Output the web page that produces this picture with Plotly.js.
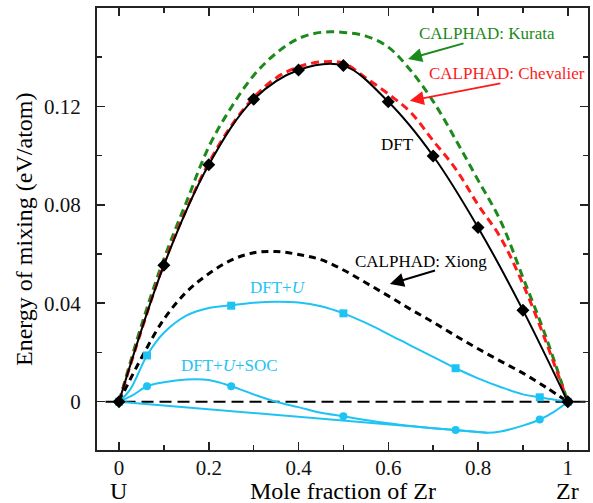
<!DOCTYPE html>
<html>
<head>
<meta charset="utf-8">
<script src="https://cdn.plot.ly/plotly-3.0.1.min.js"></script>
<style>html,body{margin:0;padding:0;background:#fff;}#chart{width:593px;height:503px;}</style>
</head>
<body>
<div id="chart"></div>
<script>
// ---- Data ----
var dftX = [0, 0.1, 0.2, 0.3, 0.4, 0.5, 0.6, 0.7, 0.8, 0.9, 1.0];
var dftY = [0, 0.0554, 0.0962, 0.1228, 0.1347, 0.1365, 0.1218, 0.0998, 0.0708, 0.0372, 0];

var calX = [0, 0.05, 0.1, 0.15, 0.2, 0.25, 0.3, 0.35, 0.4, 0.45, 0.5, 0.55, 0.6, 0.65, 0.7, 0.75, 0.8, 0.85, 0.9, 0.95, 1.0];
var kurataY = [0, 0.031, 0.058, 0.081, 0.1035, 0.1195, 0.1325, 0.1415, 0.1475, 0.1500, 0.1500, 0.1485, 0.1440, 0.1345, 0.1220, 0.1065, 0.0900, 0.0735, 0.0505, 0.027, 0];
var chevalierY = [0, 0.029, 0.056, 0.078, 0.097, 0.112, 0.1235, 0.1315, 0.1360, 0.1380, 0.1375, 0.1315, 0.1250, 0.1175, 0.1060, 0.0946, 0.0800, 0.0667, 0.0478, 0.025, 0];
var xiongY = [0, 0.0178, 0.0335, 0.0445, 0.052, 0.0575, 0.0605, 0.061, 0.0598, 0.0577, 0.0535, 0.0483, 0.043, 0.0375, 0.0323, 0.0268, 0.0215, 0.0165, 0.0116, 0.006, 0];

var uPtsX = [0, 0.0625, 0.25, 0.5, 0.75, 0.9375, 1.0];
var uPtsY = [0, 0.0188, 0.0390, 0.0359, 0.0136, 0.0018, 0];
var uCurveX = [0, 0.025, 0.0625, 0.1, 0.15, 0.2, 0.25, 0.3, 0.35, 0.4, 0.45, 0.5, 0.55, 0.6, 0.65, 0.7, 0.75, 0.8, 0.85, 0.9, 0.9375, 0.97, 1.0];
var uCurveY = [0, 0.005, 0.0188, 0.028, 0.0350, 0.0381, 0.0392, 0.0402, 0.0406, 0.0403, 0.0388, 0.0359, 0.032, 0.0275, 0.0228, 0.0182, 0.0136, 0.0095, 0.006, 0.003, 0.0018, 0.0008, 0];

var socPtsX = [0, 0.0625, 0.25, 0.5, 0.75, 0.9375, 1.0];
var socPtsY = [0, 0.0063, 0.0063, -0.0059, -0.0115, -0.0072, 0];
var socCurveX = [0, 0.03, 0.0625, 0.1, 0.15, 0.2, 0.25, 0.3, 0.35, 0.4, 0.45, 0.5, 0.55, 0.6, 0.65, 0.7, 0.75, 0.8, 0.82, 0.85, 0.9, 0.9375, 0.97, 1.0];
var socCurveY = [0, 0.0026, 0.0063, 0.0079, 0.0090, 0.0088, 0.0063, 0.003, 0.0000, -0.0022, -0.0045, -0.0059, -0.0074, -0.0087, -0.0098, -0.0108, -0.0115, -0.0123, -0.0126, -0.0121, -0.0097, -0.0072, -0.0040, 0];
var hullX = [0, 0.82];
var hullY = [0, -0.0126];

var zeroX = [-0.03, 1.04];
var zeroY = [0, 0];

var xTickVals = [0, 0.2, 0.4, 0.6, 0.8, 1];
var xTickText = ['0', '0.2', '0.4', '0.6', '0.8', '1'];
var xMinorVals = [0.1, 0.3, 0.5, 0.7, 0.9];
var yTickVals = [0, 0.04, 0.08, 0.12];
var yTickText = ['0', '0.04', '0.08', '0.12'];
var yMinorVals = [0.02, 0.06, 0.10, 0.14];

// ---- Styles ----
var GREEN = '#1b8a1b', RED = '#ff1a1a', CYAN = '#1ec3f4', BLACK = '#000';
var SERIF = 'Liberation Serif';

var traces = [
  {x: calX, y: kurataY, mode: 'lines', line: {color: GREEN, width: 3, dash: '8px,5px', shape: 'spline'}},
  {x: calX, y: chevalierY, mode: 'lines', line: {color: RED, width: 3, dash: '8px,5px', shape: 'spline'}},
  {x: calX, y: xiongY, mode: 'lines', line: {color: BLACK, width: 3, dash: '7px,5px', shape: 'spline'}},
  {x: zeroX, y: zeroY, mode: 'lines', line: {color: BLACK, width: 2, dash: '12px,6px'}},
  {x: uCurveX, y: uCurveY, mode: 'lines', line: {color: CYAN, width: 2, shape: 'spline'}},
  {x: uPtsX, y: uPtsY, mode: 'markers', marker: {color: CYAN, symbol: 'square', size: 8}},
  {x: socCurveX, y: socCurveY, mode: 'lines', line: {color: CYAN, width: 2, shape: 'spline'}},
  {x: hullX, y: hullY, mode: 'lines', line: {color: CYAN, width: 2}},
  {x: socPtsX, y: socPtsY, mode: 'markers', marker: {color: CYAN, symbol: 'circle', size: 8}},
  {x: dftX, y: dftY, mode: 'lines+markers', line: {color: BLACK, width: 2, shape: 'spline'},
   marker: {color: BLACK, symbol: 'diamond', size: 10}}
];

function arrow(x, y, ax, ay, color) {
  return {x: x, y: y, ax: ax, ay: ay, xref: 'x', yref: 'y', axref: 'x', ayref: 'y',
          text: '', showarrow: true, arrowhead: 2, arrowsize: 1.4, arrowwidth: 2,
          arrowcolor: color, standoff: 0, startstandoff: 0};
}
function label(x, y, text, color, size) {
  return {x: x, y: y, xref: 'x', yref: 'y', text: text, showarrow: false,
          font: {family: SERIF, size: size || 17, color: color}, xanchor: 'center', yanchor: 'middle'};
}

var annotations = [
  label(0.82, 0.1497, 'CALPHAD: Kurata', GREEN),
  arrow(0.644, 0.1392, 0.771, 0.1457, GREEN),
  label(0.864, 0.1335, 'CALPHAD: Chevalier', RED),
  arrow(0.648, 0.1222, 0.853, 0.1294, RED),
  label(0.620, 0.1046, 'DFT', BLACK),
  label(0.674, 0.0569, 'CALPHAD: Xiong', BLACK),
  arrow(0.6036, 0.0478, 0.7075, 0.0535, BLACK),
  label(0.355, 0.0464, 'DFT+<i>U</i>', CYAN),
  label(0.246, 0.0148, 'DFT+<i>U</i>+SOC', CYAN),
  {x: 0, y: 0, xref: 'x', yref: 'paper', text: 'U', showarrow: false, yanchor: 'top', yshift: -26,
   font: {family: SERIF, size: 24, color: BLACK}},
  {x: 1, y: 0, xref: 'x', yref: 'paper', text: 'Zr', showarrow: false, yanchor: 'top', yshift: -26,
   font: {family: SERIF, size: 24, color: BLACK}},
  {x: 0.5, y: 0, xref: 'x', yref: 'paper', text: 'Mole fraction of Zr', showarrow: false, yanchor: 'top', yshift: -26,
   font: {family: SERIF, size: 24, color: BLACK}},
  {x: 0, y: 0.5, xref: 'paper', yref: 'paper', text: 'Energy of mixing (eV/atom)', showarrow: false,
   textangle: -90, xanchor: 'center', yanchor: 'middle', xshift: -73,
   font: {family: SERIF, size: 24, color: BLACK}}
];

var axisCommon = {
  showgrid: false, zeroline: false, showline: true, linecolor: '#222', linewidth: 2,
  mirror: 'ticks', ticks: 'inside', ticklen: 8, tickwidth: 1.5, tickcolor: '#222',
  tickfont: {family: SERIF, size: 21, color: '#111'}
};

var layout = {
  width: 593, height: 503,
  margin: {l: 97, r: 5, t: 8, b: 53},
  paper_bgcolor: '#fff', plot_bgcolor: '#fff',
  showlegend: false,
  font: {family: SERIF},
  xaxis: Object.assign({}, axisCommon, {
    range: [-0.049, 1.045], tickmode: 'array', tickvals: xTickVals, ticktext: xTickText,
    ticklabelstandoff: -2,
    minor: {tickmode: 'array', tickvals: xMinorVals, ticks: 'inside', ticklen: 5, tickwidth: 1.5, tickcolor: '#222'}
  }),
  yaxis: Object.assign({}, axisCommon, {
    range: [-0.0196, 0.1599], tickmode: 'array', tickvals: yTickVals, ticktext: yTickText,
    ticklabelstandoff: 10,
    minor: {tickmode: 'array', tickvals: yMinorVals, ticks: 'inside', ticklen: 5, tickwidth: 1.5, tickcolor: '#222'}
  }),
  annotations: annotations
};

Plotly.newPlot('chart', traces, layout, {displayModeBar: false, staticPlot: true});
</script>
</body>
</html>
